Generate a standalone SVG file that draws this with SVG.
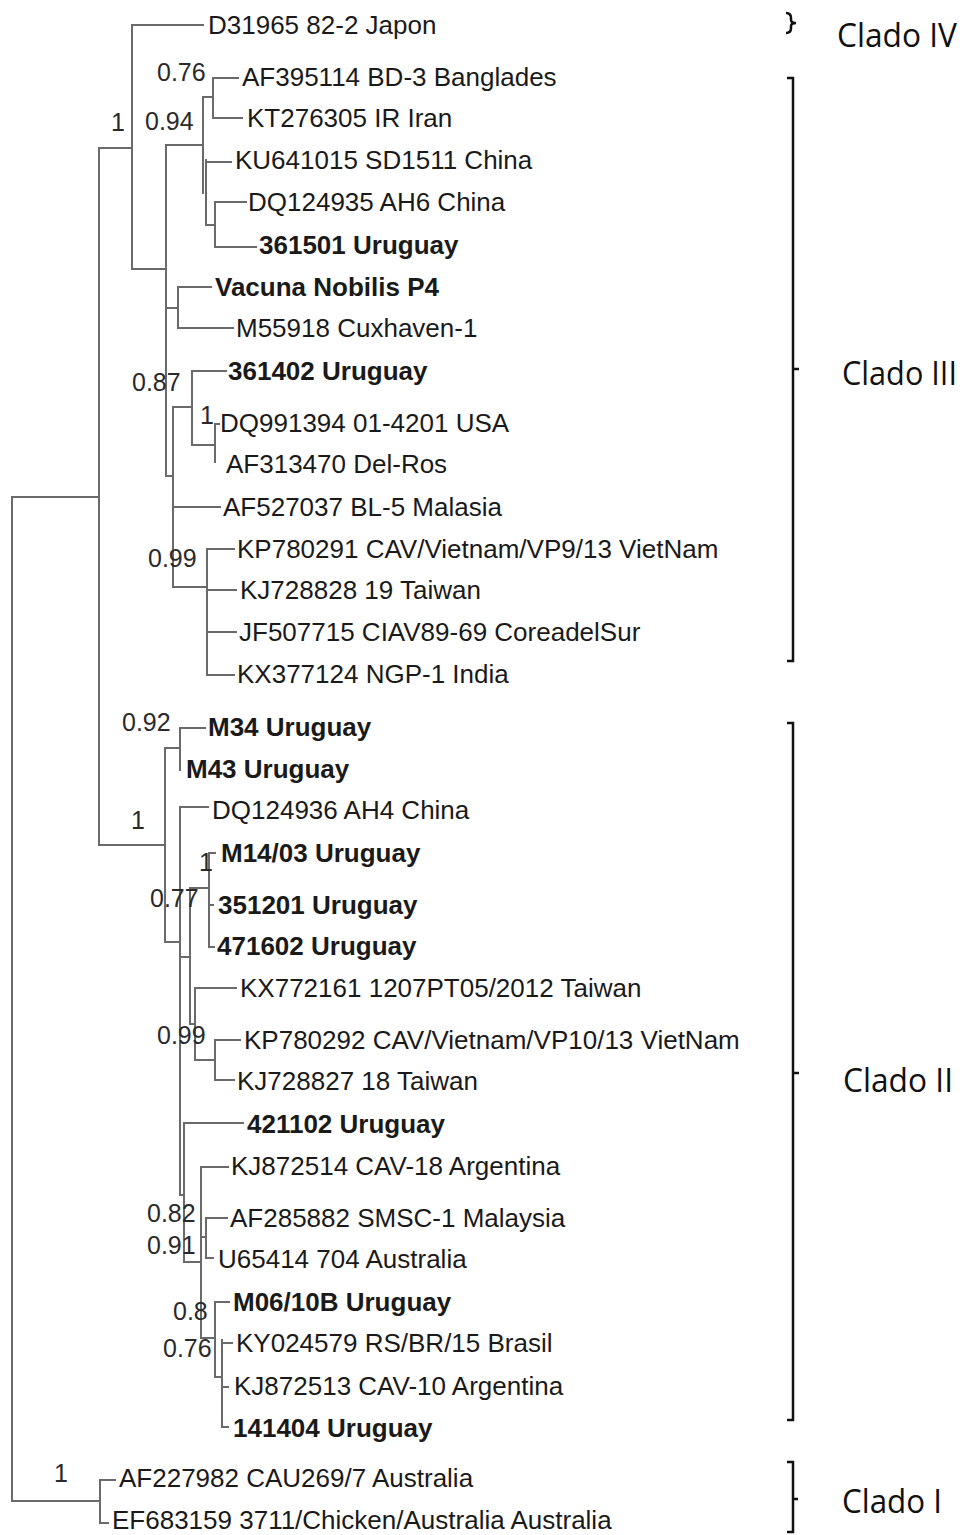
<svg xmlns="http://www.w3.org/2000/svg" width="966" height="1535" viewBox="0 0 966 1535">
<style>
.br{fill:none;stroke:#6a6a6a;stroke-width:2;stroke-linecap:square}
.t{font-family:"Liberation Sans",Arial,sans-serif;font-size:26px;fill:#1a1a1a}
.b{font-weight:bold}
.s{font-family:"Liberation Sans",Arial,sans-serif;font-size:25px;fill:#2a2a2a}
.bk{fill:none;stroke:#111;stroke-width:2.5}
.cl{font-family:"Open Sans","Noto Sans",sans-serif;font-size:32px;fill:#111}
</style>
<rect width="966" height="1535" fill="#fff"/>
<g id="connectors">
<path class="br" d="M12,497V1501M12,497H99M12,1501H100M100,1480V1523M100,1480H115M100,1523H108
M99,148V845M99,148H132M132,25V269M132,25H203M132,269H166M166,145V476M166,145H203
M203,97V193M206,160V225M203,97H213M213,78V118M213,78H238M213,118H242M206,162H231M206,225H215M215,202V247M215,202H246M215,247H256
M166,308H178M178,287V328M178,287H211M178,328H233
M166,476H173M173,407V587M173,407H192M192,371V445M192,371H226M192,445H215M215,424V462M215,424H219
M173,507H220M173,587H207M207,549V675M207,549H234M207,590H236M207,632H236M207,675H234"/>
<path class="br" d="M99,845H165M165,748V942M165,748H180M180,728V770M180,728H205M165,942H180
M180,807V1195M180,807H208M180,957H190M190,888V1024M190,888H209M209,853V947M209,853H215M209,905H213M209,947H214
M190,1024H195M195,988V1060M195,988H236M195,1060H215M215,1040V1080M215,1040H240M215,1080H234
M180,1195H184M184,1123V1262M184,1123H243M184,1262H201M201,1167V1338M201,1167H228M201,1237H206M206,1218V1258M206,1218H227M206,1258H213
M201,1338H215M215,1302V1377M215,1302H229M215,1377H222M222,1340V1427M222,1343H232M222,1387H228M222,1427H228"/>
</g>
<g id="n-D31965"><text class="t" x="208" y="34">D31965 82-2 Japon</text></g>
<g id="n-AF395114"><text class="t" x="242" y="86">AF395114 BD-3 Banglades</text></g>
<g id="n-KT276305"><text class="t" x="247" y="127">KT276305 IR Iran</text></g>
<g id="n-KU641015"><text class="t" x="235" y="169">KU641015 SD1511 China</text></g>
<g id="n-DQ124935"><text class="t" x="248" y="211">DQ124935 AH6 China</text></g>
<g id="n-361501"><text class="t b" x="259" y="254">361501 Uruguay</text></g>
<g id="n-Vacuna"><text class="t b" x="215" y="296">Vacuna Nobilis P4</text></g>
<g id="n-M55918"><text class="t" x="236" y="337">M55918 Cuxhaven-1</text></g>
<g id="n-361402"><text class="t b" x="228" y="380">361402 Uruguay</text></g>
<g id="n-DQ991394"><text class="t" x="220" y="432">DQ991394 01-4201 USA</text></g>
<g id="n-AF313470"><text class="t" x="226" y="473">AF313470 Del-Ros</text></g>
<g id="n-AF527037"><text class="t" x="223" y="516">AF527037 BL-5 Malasia</text></g>
<g id="n-KP780291"><text class="t" x="237" y="558">KP780291 CAV/Vietnam/VP9/13 VietNam</text></g>
<g id="n-KJ728828"><text class="t" x="240" y="599">KJ728828 19 Taiwan</text></g>
<g id="n-JF507715"><text class="t" x="239" y="641">JF507715 CIAV89-69 CoreadelSur</text></g>
<g id="n-KX377124"><text class="t" x="237" y="683">KX377124 NGP-1 India</text></g>
<g id="n-M34"><text class="t b" x="208" y="736">M34 Uruguay</text></g>
<g id="n-M43"><text class="t b" x="186" y="778">M43 Uruguay</text></g>
<g id="n-DQ124936"><text class="t" x="212" y="819">DQ124936 AH4 China</text></g>
<g id="n-M1403"><text class="t b" x="221" y="862">M14/03 Uruguay</text></g>
<g id="n-351201"><text class="t b" x="218" y="914">351201 Uruguay</text></g>
<g id="n-471602"><text class="t b" x="217" y="955">471602 Uruguay</text></g>
<g id="n-KX772161"><text class="t" x="240" y="997">KX772161 1207PT05/2012 Taiwan</text></g>
<g id="n-KP780292"><text class="t" x="244" y="1049">KP780292 CAV/Vietnam/VP10/13 VietNam</text></g>
<g id="n-KJ728827"><text class="t" x="237" y="1090">KJ728827 18 Taiwan</text></g>
<g id="n-421102"><text class="t b" x="247" y="1133">421102 Uruguay</text></g>
<g id="n-KJ872514"><text class="t" x="231" y="1175">KJ872514 CAV-18 Argentina</text></g>
<g id="n-AF285882"><text class="t" x="230" y="1227">AF285882 SMSC-1 Malaysia</text></g>
<g id="n-U65414"><text class="t" x="218" y="1268">U65414 704 Australia</text></g>
<g id="n-M0610B"><text class="t b" x="233" y="1311">M06/10B Uruguay</text></g>
<g id="n-KY024579"><text class="t" x="236" y="1352">KY024579 RS/BR/15 Brasil</text></g>
<g id="n-KJ872513"><text class="t" x="234" y="1395">KJ872513 CAV-10 Argentina</text></g>
<g id="n-141404"><text class="t b" x="233" y="1437">141404 Uruguay</text></g>
<g id="n-AF227982"><text class="t" x="119" y="1487">AF227982 CAU269/7 Australia</text></g>
<g id="n-EF683159"><text class="t" x="112" y="1529">EF683159 3711/Chicken/Australia Australia</text></g>
<g id="supports">
<text class="s" x="157" y="81">0.76</text>
<text class="s" x="111" y="131">1</text>
<text class="s" x="145" y="130">0.94</text>
<text class="s" x="132" y="391">0.87</text>
<text class="s" x="200" y="424">1</text>
<text class="s" x="148" y="567">0.99</text>
<text class="s" x="122" y="731">0.92</text>
<text class="s" x="131" y="829">1</text>
<text class="s" x="199" y="871">1</text>
<text class="s" x="150" y="907">0.77</text>
<text class="s" x="157" y="1044">0.99</text>
<text class="s" x="147" y="1222">0.82</text>
<text class="s" x="147" y="1254">0.91</text>
<text class="s" x="173" y="1320">0.8</text>
<text class="s" x="163" y="1357">0.76</text>
<text class="s" x="54" y="1482">1</text>
</g>
<g id="clado-IV"><path class="bk" d="M786,13Q791,13 791,18V20Q791,23 796,23Q791,23 791,26V28Q791,33 786,33"/><text class="cl" x="837" y="47" textLength="120" lengthAdjust="spacingAndGlyphs">Clado IV</text></g>
<g id="clado-III"><path class="bk" d="M787,78H793V661H787M793,369H799"/><text class="cl" x="842" y="385" textLength="115" lengthAdjust="spacingAndGlyphs">Clado III</text></g>
<g id="clado-II"><path class="bk" d="M787,723H793V1420H787M793,1073H799"/><text class="cl" x="843" y="1092" textLength="110" lengthAdjust="spacingAndGlyphs">Clado II</text></g>
<g id="clado-I"><path class="bk" d="M787,1462H793V1532H787M793,1499H798"/><text class="cl" x="842" y="1513" textLength="100" lengthAdjust="spacingAndGlyphs">Clado I</text></g>
</svg>
